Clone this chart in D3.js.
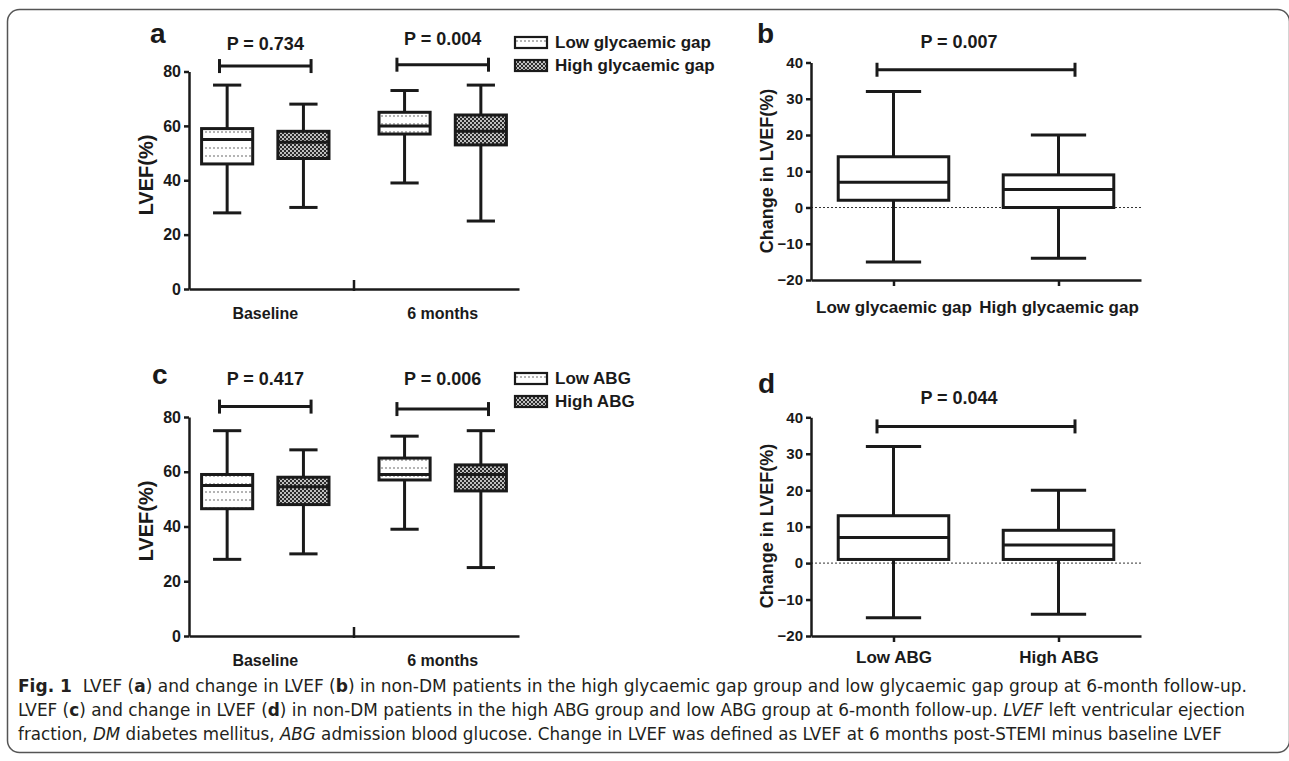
<!DOCTYPE html>
<html>
<head>
<meta charset="utf-8">
<title>Fig. 1 LVEF box plots</title>
<script src="https://cdn.jsdelivr.net/npm/d3@7"></script>
<style>
  body { margin: 0; background: #fff; }
  svg { display: block; font-family: "Liberation Sans", Arial, sans-serif; }
  .axis path, .axis line { stroke: #1a1a1a; stroke-width: 2.5; }
  .axis text { fill: #1a1a1a; font-weight: bold; }
  .caption { font-family: "DejaVu Sans", sans-serif; font-stretch: condensed; fill: #231f20; }
</style>
</head>
<body>
<svg id="fig" width="1289" height="761"></svg>
<script>
// ---- data ----
const timeGroups = ["Baseline", "6 months"];
const gapSeries = ["Low glycaemic gap", "High glycaemic gap"];
const abgSeries = ["Low ABG", "High ABG"];

// five-number summaries: [min, q1, median, q3, max]
const lvefGapLow  = [[28, 46, 55, 59, 75], [39, 57, 60, 65, 73]];
const lvefGapHigh = [[30, 48, 54, 58, 68], [25, 53, 58, 64, 75]];
const lvefAbgLow  = [[28, 46.5, 55, 59, 75], [39, 57, 59, 65, 73]];
const lvefAbgHigh = [[30, 48, 54.5, 58, 68], [25, 53, 59, 62.5, 75]];

const changeGap = [[-15, 2, 7, 14, 32], [-14, 0, 5, 9, 20]];
const changeAbg = [[-15, 1, 7, 13, 32], [-14, 1, 5, 9, 20]];

const lvefTicks = [0, 20, 40, 60, 80];
const changeTicks = [-20, -10, 0, 10, 20, 30, 40];

const pGapLvef = ["P = 0.734", "P = 0.004"];
const pAbgLvef = ["P = 0.417", "P = 0.006"];
const pGapChange = "P = 0.007";
const pAbgChange = "P = 0.044";
// height of significance brackets, in data units
const bracketGapLvef = [82, 82.5];
const bracketAbgLvef = [83.8, 82.9];
const bracketGapChange = 38;
const bracketAbgChange = 37.5;

const svg = d3.select("#fig");
const INK = "#1a1a1a";

// frame
svg.append("rect")
    .attr("x", 7.5).attr("y", 9.5)
    .attr("width", 1282).attr("height", 743)
    .attr("rx", 12)
    .attr("fill", "none").attr("stroke", "#555").attr("stroke-width", 1.5);

// fill patterns
const defs = svg.append("defs");
const pLow = defs.append("pattern").attr("id", "pat-low")
    .attr("patternUnits", "userSpaceOnUse").attr("width", 4).attr("height", 8);
pLow.append("rect").attr("width", 4).attr("height", 8).attr("fill", "#fff");
pLow.append("circle").attr("cx", 2).attr("cy", 4).attr("r", 0.75).attr("fill", "#444");

const pHigh = defs.append("pattern").attr("id", "pat-high")
    .attr("patternUnits", "userSpaceOnUse").attr("width", 4).attr("height", 4);
pHigh.append("rect").attr("width", 4).attr("height", 4).attr("fill", "#2b2b2b");
pHigh.append("circle").attr("cx", 1).attr("cy", 1).attr("r", 0.95).attr("fill", "#fff");
pHigh.append("circle").attr("cx", 3).attr("cy", 3).attr("r", 0.95).attr("fill", "#fff");

function drawBox(g, cx, w, capW, s, y, fill) {
    const sw = 3;
    g.append("line").attr("x1", cx).attr("x2", cx).attr("y1", y(s[0])).attr("y2", y(s[4]))
        .attr("stroke", INK).attr("stroke-width", sw);
    [s[0], s[4]].forEach(v => {
        g.append("line").attr("x1", cx - capW / 2).attr("x2", cx + capW / 2)
            .attr("y1", y(v)).attr("y2", y(v))
            .attr("stroke", INK).attr("stroke-width", sw);
    });
    g.append("rect").attr("x", cx - w / 2).attr("y", y(s[3]))
        .attr("width", w).attr("height", y(s[1]) - y(s[3]))
        .attr("fill", fill).attr("stroke", INK).attr("stroke-width", sw);
    g.append("line").attr("x1", cx - w / 2).attr("x2", cx + w / 2)
        .attr("y1", y(s[2])).attr("y2", y(s[2]))
        .attr("stroke", INK).attr("stroke-width", sw);
}

function drawBracket(g, xa, xb, yy, label, labelX, labelDy) {
    g.append("line").attr("x1", xa).attr("x2", xb).attr("y1", yy).attr("y2", yy)
        .attr("stroke", INK).attr("stroke-width", 3);
    [xa, xb].forEach(xx => {
        g.append("line").attr("x1", xx).attr("x2", xx).attr("y1", yy - 7).attr("y2", yy + 7)
            .attr("stroke", INK).attr("stroke-width", 3);
    });
    g.append("text").attr("x", labelX).attr("y", yy + labelDy)
        .attr("text-anchor", "middle").attr("font-size", 18).attr("font-weight", "bold")
        .attr("fill", INK).text(label);
}

function panelLetter(x, y, t) {
    svg.append("text").attr("x", x).attr("y", y).attr("font-size", 28)
        .attr("font-weight", "bold").attr("fill", INK).text(t);
}

function yTitle(x, y, t, size) {
    svg.append("text").attr("transform", `translate(${x},${y}) rotate(-90)`)
        .attr("text-anchor", "middle").attr("font-size", size).attr("font-weight", "bold")
        .attr("fill", INK).text(t);
}

// grouped panel: LVEF at baseline / 6 months
function groupedPanel(opt) {
    const g = svg.append("g");
    const y = d3.scaleLinear().domain([0, 80]).range(opt.yRange);
    const x0 = d3.scaleBand().domain(timeGroups).range(opt.xRange).paddingInner(0.14);
    const x1 = d3.scaleBand().domain(opt.series).range([0, x0.bandwidth()]);

    g.append("g").attr("class", "axis")
        .attr("transform", `translate(${opt.xRange[0]},0)`)
        .call(d3.axisLeft(y).tickValues(lvefTicks).tickSize(5).tickSizeOuter(0).tickPadding(3))
        .call(a => a.selectAll("text").attr("font-size", 16));

    g.append("g").attr("class", "axis")
        .attr("transform", `translate(0,${opt.yRange[0]})`)
        .call(d3.axisBottom(x0).tickSize(0).tickSizeOuter(0).tickPadding(19))
        .call(a => a.selectAll("text").attr("font-size", 16));

    // separator tick between the two time groups
    const sep = (x0(timeGroups[0]) + x0.bandwidth() + x0(timeGroups[1])) / 2;
    g.append("line").attr("x1", sep).attr("x2", sep)
        .attr("y1", opt.yRange[0] - 9).attr("y2", opt.yRange[0] + 2)
        .attr("stroke", INK).attr("stroke-width", 2.5);

    timeGroups.forEach((grp, i) => {
        opt.series.forEach((s, j) => {
            const cx = x0(grp) + x1(s) + x1.bandwidth() / 2;
            drawBox(g, cx, x1.bandwidth() * 0.67, x1.bandwidth() * 0.37,
                opt.values[j][i], y, j === 0 ? "url(#pat-low)" : "url(#pat-high)");
        });
        const bx = x0(grp), bw = x0.bandwidth();
        drawBracket(g, bx + bw * 0.2, bx + bw * 0.8, y(opt.brackets[i]), opt.pvals[i],
            bx + bw / 2, opt.pDy[i]);
    });

    // legend
    const lg = svg.append("g").attr("transform", `translate(515,${opt.legendTop})`);
    opt.series.forEach((s, j) => {
        lg.append("rect").attr("x", 0).attr("y", j * 23).attr("width", 32).attr("height", 11)
            .attr("fill", j === 0 ? "url(#pat-low)" : "url(#pat-high)")
            .attr("stroke", INK).attr("stroke-width", 2.2);
        lg.append("text").attr("x", 40).attr("y", j * 23 + 11)
            .attr("font-size", 17).attr("font-weight", "bold").attr("fill", INK).text(s);
    });
}

// simple panel: change in LVEF
function changePanel(opt) {
    const g = svg.append("g");
    const y = d3.scaleLinear().domain([-20, 40]).range(opt.yRange);
    const x = d3.scalePoint().domain(opt.series).range(opt.xRange).padding(0.5);
    const step = x.step();

    // zero reference line
    g.append("line").attr("x1", opt.xRange[0]).attr("x2", opt.xRange[1])
        .attr("y1", y(0)).attr("y2", y(0))
        .attr("stroke", "#333").attr("stroke-width", 1).attr("stroke-dasharray", "2,2");

    g.append("g").attr("class", "axis")
        .attr("transform", `translate(${opt.xRange[0]},0)`)
        .call(d3.axisLeft(y).tickValues(changeTicks).tickSize(5).tickSizeOuter(0).tickPadding(3))
        .call(a => a.selectAll("text").attr("font-size", 15));

    g.append("g").attr("class", "axis")
        .attr("transform", `translate(0,${opt.yRange[0]})`)
        .call(d3.axisBottom(x).tickSize(6).tickSizeOuter(0).tickPadding(opt.labelPad))
        .call(a => a.selectAll("text").attr("font-size", 17));

    opt.series.forEach((s, j) => {
        drawBox(g, x(s), step * 0.67, step * 0.335, opt.values[j], y, "#fff");
    });

    const xa = x(opt.series[0]) - step * 0.1, xb = x(opt.series[1]) + step * 0.1;
    drawBracket(g, xa, xb, y(opt.bracket), opt.pval, (xa + xb) / 2 - 17, -22);
}

groupedPanel({
    xRange: [189, 519], yRange: [289, 71.5], series: gapSeries,
    values: [lvefGapLow, lvefGapHigh], pvals: pGapLvef, brackets: bracketGapLvef,
    pDy: [-16, -20], legendTop: 37
});
groupedPanel({
    xRange: [189, 519], yRange: [636, 417], series: abgSeries,
    values: [lvefAbgLow, lvefAbgHigh], pvals: pAbgLvef, brackets: bracketAbgLvef,
    pDy: [-22, -24], legendTop: 373
});
changePanel({
    xRange: [811, 1141], yRange: [280, 62.5], series: gapSeries,
    values: changeGap, pval: pGapChange, bracket: bracketGapChange, labelPad: 15
});
changePanel({
    xRange: [811, 1141], yRange: [636, 417.3], series: abgSeries,
    values: changeAbg, pval: pAbgChange, bracket: bracketAbgChange, labelPad: 9
});

panelLetter(150, 43, "a");
panelLetter(757, 43, "b");
panelLetter(152, 384, "c");
panelLetter(758, 393, "d");

yTitle(153, 175, "LVEF(%)", 20);
yTitle(773, 171, "Change in LVEF(%)", 18);
yTitle(153, 521, "LVEF(%)", 20);
yTitle(773, 526, "Change in LVEF(%)", 18);

// caption
const captionLines = [
    [["Fig. 1", "b"], ["  LVEF (", ""], ["a", "b"], [") and change in LVEF (", ""], ["b", "b"],
     [") in non-DM patients in the high glycaemic gap group and low glycaemic gap group at 6-month follow-up.", ""]],
    [["LVEF (", ""], ["c", "b"], [") and change in LVEF (", ""], ["d", "b"],
     [") in non-DM patients in the high ABG group and low ABG group at 6-month follow-up. ", ""],
     ["LVEF", "i"], [" left ventricular ejection", ""]],
    [["fraction, ", ""], ["DM", "i"], [" diabetes mellitus, ", ""], ["ABG", "i"],
     [" admission blood glucose. Change in LVEF was defined as LVEF at 6 months post-STEMI minus baseline LVEF", ""]]
];
const captionY = [692, 716, 740];
const captionW = [1229, 1227, 1204];
captionLines.forEach((parts, i) => {
    const t = svg.append("text").attr("class", "caption")
        .attr("x", 18).attr("y", captionY[i]).attr("font-size", 18)
        .attr("textLength", captionW[i]).attr("lengthAdjust", "spacingAndGlyphs")
        .attr("xml:space", "preserve");
    parts.forEach(([s, st]) => {
        const ts = t.append("tspan").text(s);
        if (st === "b") ts.attr("font-weight", "bold");
        if (st === "i") ts.attr("font-style", "italic");
    });
});
</script>
</body>
</html>
